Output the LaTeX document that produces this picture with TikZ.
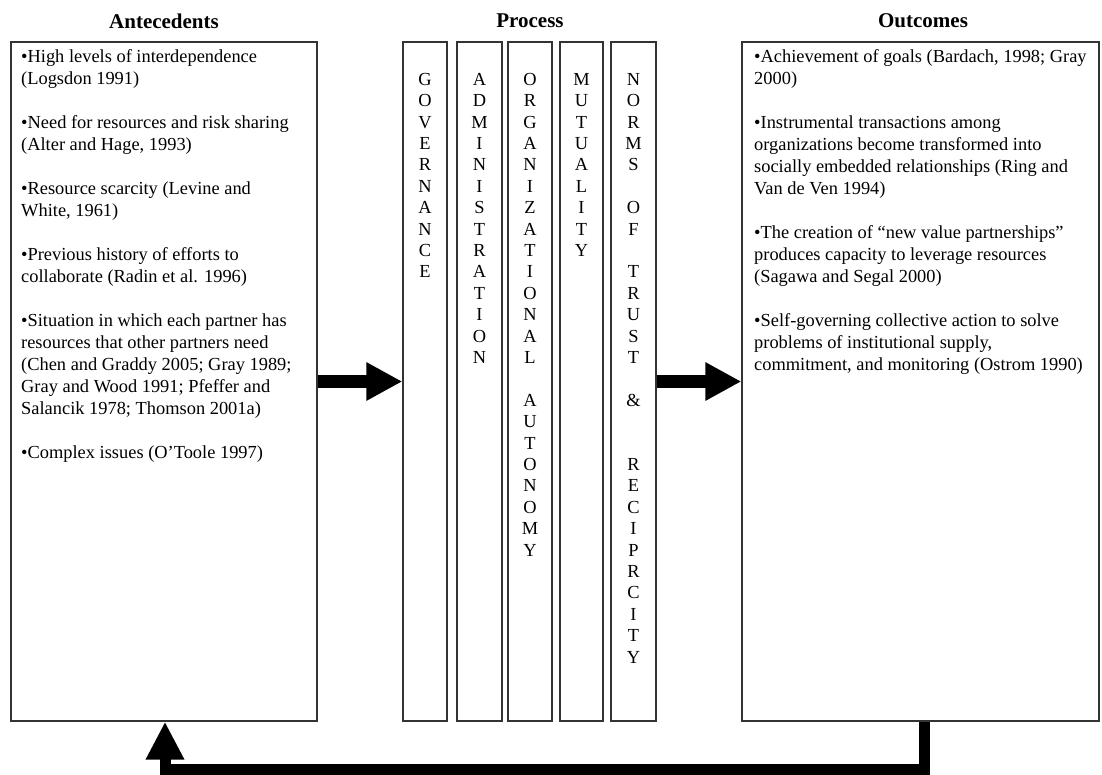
\documentclass[tikz,border=0pt]{standalone}
\usepackage{fontspec}
\setmainfont{Liberation Serif}
\usetikzlibrary{arrows.meta}

\newcommand\bodysize{\fontsize{18.4pt}{22pt}\selectfont}
\newcommand\stacksize{\fontsize{18.4pt}{21.4pt}\selectfont}
\newcommand\headsize{\fontsize{21pt}{25pt}\selectfont\bfseries}

\tikzset{
  frame/.style={draw=black!80, line width=1.3pt, inner sep=0pt, minimum height=679pt},
  body/.style={font=\bodysize, align=left, inner sep=0pt, anchor=north west},
  stack/.style={font=\stacksize, align=center, inner sep=0pt, anchor=north},
  head/.style={font=\headsize, inner sep=0pt},
  flow/.style={line width=13pt, -{Triangle[width=36pt,length=36pt]}},
  loopback/.style={line width=11pt, line join=miter, -{Triangle[width=36pt,length=38pt]}}
}

\begin{document}
\begin{tikzpicture}[x=1pt,y=-1pt]
\useasboundingbox (0,0) rectangle (1102,774);

% column headings
\node[head] (anteh) at (164,21) {Antecedents};
\node[head] (proch) at (530,21) {Process};
\node[head] (outh)  at (923,21) {Outcomes};

% antecedents
\node[frame, minimum width=306pt] (ante) at (164,381.5) {};
\node[body] (antetext) at (21,49.5) {%
•High levels of interdependence\\
(Logsdon 1991)\\
~\\
•Need for resources and risk sharing\\
(Alter and Hage, 1993)\\
~\\
•Resource scarcity (Levine and\\
White, 1961)\\
~\\
•Previous history of efforts to\\
collaborate (Radin et al. 1996)\\
~\\
•Situation in which each partner has\\
resources that other partners need\\
(Chen and Graddy 2005; Gray 1989;\\
Gray and Wood 1991; Pfeffer and\\
Salancik 1978; Thomson 2001a)\\
~\\
•Complex issues (O’Toole 1997)};

% process columns
\node[frame, minimum width=44pt] (gov) at (425,381.5) {};
\node[frame, minimum width=45pt] (adm) at (479.5,381.5) {};
\node[frame, minimum width=44pt] (org) at (530,381.5) {};
\node[frame, minimum width=43pt] (mut) at (581.5,381.5) {};
\node[frame, minimum width=45pt] (nor) at (633.5,381.5) {};

\node[stack] (govtext) at (425,73) {G\\O\\V\\E\\R\\N\\A\\N\\C\\E};
\node[stack] (admtext) at (479.5,73) {A\\D\\M\\I\\N\\I\\S\\T\\R\\A\\T\\I\\O\\N};
\node[stack] (orgtext) at (530,73) {O\\R\\G\\A\\N\\I\\Z\\A\\T\\I\\O\\N\\A\\L\\~\\A\\U\\T\\O\\N\\O\\M\\Y};
\node[stack] (muttext) at (581.5,73) {M\\U\\T\\U\\A\\L\\I\\T\\Y};
\node[stack] (nortext) at (633.5,73) {N\\O\\R\\M\\S\\~\\O\\F\\~\\T\\R\\U\\S\\T\\~\\\&\\~\\~\\R\\E\\C\\I\\P\\R\\C\\I\\T\\Y};

% outcomes
\node[frame, minimum width=357pt] (outc) at (920.5,381.5) {};
\node[body] (outtext) at (754,49.5) {%
•Achievement of goals (Bardach, 1998; Gray\\
2000)\\
~\\
•Instrumental transactions among\\
organizations become transformed into\\
socially embedded relationships (Ring and\\
Van de Ven 1994)\\
~\\
•The creation of “new value partnerships”\\
produces capacity to leverage resources\\
(Sagawa and Segal 2000)\\
~\\
•Self-governing collective action to solve\\
problems of institutional supply,\\
commitment, and monitoring (Ostrom 1990)};

% flow between the stages
\draw[flow] (ante.east) -- (gov.west);
\draw[flow] (nor.east) -- (outc.west);

% feedback from outcomes to antecedents
\coordinate (fbR) at (924,769);
\coordinate (fbL) at (165,769);
\draw[loopback] (outc.south -| fbR) -- (fbR) -- (fbL) -- (ante.south -| fbL);
\end{tikzpicture}
\end{document}
